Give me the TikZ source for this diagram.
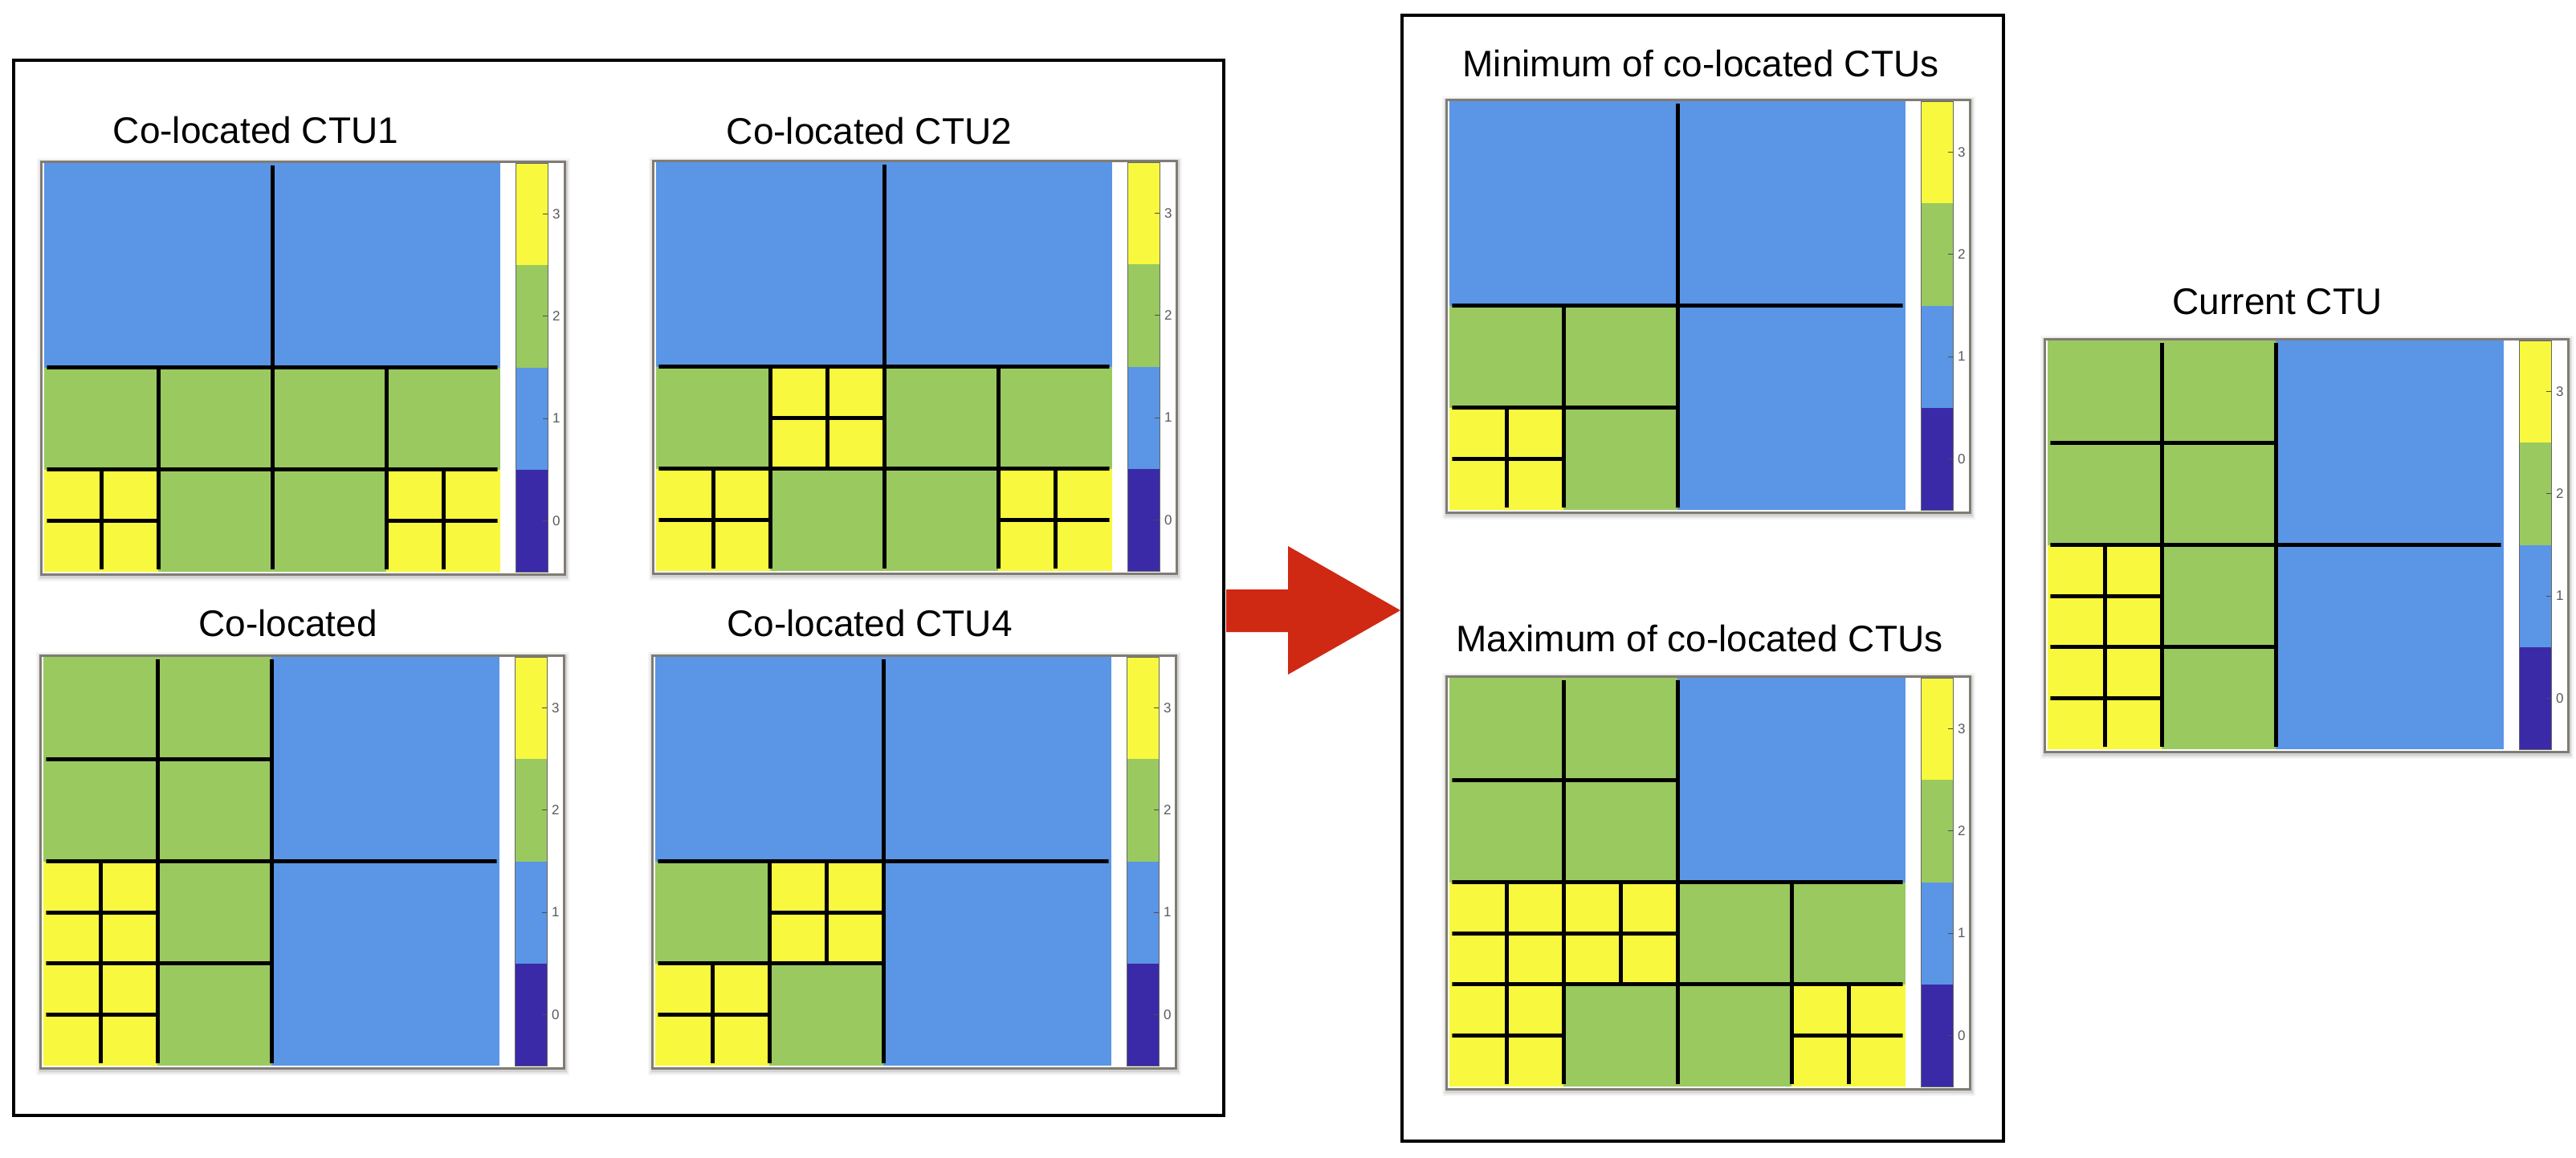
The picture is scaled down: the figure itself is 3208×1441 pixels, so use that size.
\documentclass[tikz,border=0pt]{standalone}
\usepackage{fontspec}
\setmainfont{Liberation Sans}
\definecolor{c4}{RGB}{91,149,229}
\definecolor{c2}{RGB}{154,201,96}
\definecolor{c1}{RGB}{248,248,62}
\definecolor{cdark}{RGB}{59,42,168}
\definecolor{cframe}{RGB}{128,124,116}
\definecolor{cred}{RGB}{207,40,19}
\tikzset{
  titletext/.style={font=\fontsize{46}{50}\selectfont, anchor=base, inner sep=0pt},
  ticktext/.style={font=\fontsize{17}{20}\selectfont, text=black!65, anchor=west, inner sep=0pt},
  panelframe/.style={draw=cframe, line width=3pt, fill=white, minimum width=652pt, minimum height=514pt, inner sep=0pt, outer sep=0pt, anchor=north west},
  groupbox/.style={draw=black, line width=4pt, inner sep=0pt, outer sep=0pt},
  splitline/.style={draw=black, line width=5pt},
  tickmark/.style={draw=black!70, line width=1pt},
  cbaroutline/.style={draw=black!60, line width=1pt},
}
\newcommand{\ctupanel}[4]{%
\begin{scope}[shift={(#2,#3)}]
  \fill[black,opacity=0.04] (-4,-3) rectangle (660,524);
  \fill[black,opacity=0.06] (-2,-1) rectangle (658,522);
  \fill[black,opacity=0.08] (0,1) rectangle (657,520);
  \node[panelframe] (#1) at (1.5,1.5) {};
  \begin{scope}[shift={(5,3)}, xscale=71, yscale=63.625]
    \foreach \bx/\by/\bs in {#4} {\fill[fill=c\bs] (\bx,\by) rectangle ++(\bs,\bs);}
    \begin{scope}
      \clip (0.05,0.055) rectangle (7.95,7.945);
      \foreach \bx/\by/\bs in {#4} {\draw[splitline] (\bx,\by) rectangle ++(\bs,\bs);}
    \end{scope}
  \end{scope}
  \foreach \k/\col/\lab in {0/c1/3,1/c2/2,2/c4/1,3/cdark/0} {
    \fill[fill=\col] (592,3+127.25*\k) rectangle (632,130.25+127.25*\k);
    \draw[tickmark] (626,66.6+127.25*\k) -- (632,66.6+127.25*\k);
    \node[ticktext] (#1-l\lab) at (638,66.6+127.25*\k) {\lab};
  }
  \draw[cbaroutline] (592,3) rectangle (632,512);
\end{scope}}

\begin{document}
\begin{tikzpicture}[x=1pt,y=-1pt]
\useasboundingbox[fill=white] (0,0) rectangle (3208,1441);

% group boxes
\node[groupbox, minimum width=1507pt, minimum height=1314pt] (leftbox) at (770,731.5) {};
\node[groupbox, minimum width=749pt, minimum height=1402pt] (midbox) at (2120.5,720) {};

% panels
\ctupanel{p1}{50}{200}{0/0/4,4/0/4,0/4/2,2/4/2,0/6/1,1/6/1,0/7/1,1/7/1,2/6/2,4/4/2,6/4/2,4/6/2,6/6/1,7/6/1,6/7/1,7/7/1}
\ctupanel{p2}{812}{199}{0/0/4,4/0/4,0/4/2,2/4/1,3/4/1,2/5/1,3/5/1,0/6/1,1/6/1,0/7/1,1/7/1,2/6/2,4/4/2,6/4/2,4/6/2,6/6/1,7/6/1,6/7/1,7/7/1}
\ctupanel{p3}{49}{815}{0/0/2,2/0/2,0/2/2,2/2/2,4/0/4,0/4/1,1/4/1,0/5/1,1/5/1,2/4/2,0/6/1,1/6/1,0/7/1,1/7/1,2/6/2,4/4/4}
\ctupanel{p4}{811}{815}{0/0/4,4/0/4,0/4/2,2/4/1,3/4/1,2/5/1,3/5/1,0/6/1,1/6/1,0/7/1,1/7/1,2/6/2,4/4/4}
\ctupanel{pmin}{1800}{123}{0/0/4,4/0/4,0/4/2,2/4/2,0/6/1,1/6/1,0/7/1,1/7/1,2/6/2,4/4/4}
\ctupanel{pmax}{1800}{841}{0/0/2,2/0/2,0/2/2,2/2/2,4/0/4,0/4/1,1/4/1,0/5/1,1/5/1,2/4/1,3/4/1,2/5/1,3/5/1,0/6/1,1/6/1,0/7/1,1/7/1,2/6/2,4/4/2,6/4/2,4/6/2,6/6/1,7/6/1,6/7/1,7/7/1}
\ctupanel{pcur}{2545}{421}{0/0/2,2/0/2,0/2/2,2/2/2,4/0/4,0/4/1,1/4/1,0/5/1,1/5/1,2/4/2,0/6/1,1/6/1,0/7/1,1/7/1,2/6/2,4/4/4}

% titles
\node[titletext] (t1) at (318.5,178) {Co-located CTU1};
\node[titletext] (t2) at (1082.5,179) {Co-located CTU2};
\node[titletext] (t3) at (358.5,792) {Co-located};
\node[titletext] (t4) at (1083,792) {Co-located CTU4};
\node[titletext] (tmin) at (2118,95) {Minimum of co-located CTUs};
\node[titletext] (tmax) at (2116.5,811) {Maximum of co-located CTUs};
\node[titletext] (tcur) at (2836,391) {Current CTU};

% red block arrow from left group to middle group
\fill[cred] (1527,734) -- (1604,734) -- (1604,680) -- (1744,760) -- (1604,840) -- (1604,787) -- (1527,787) -- cycle;
\end{tikzpicture}
\end{document}
